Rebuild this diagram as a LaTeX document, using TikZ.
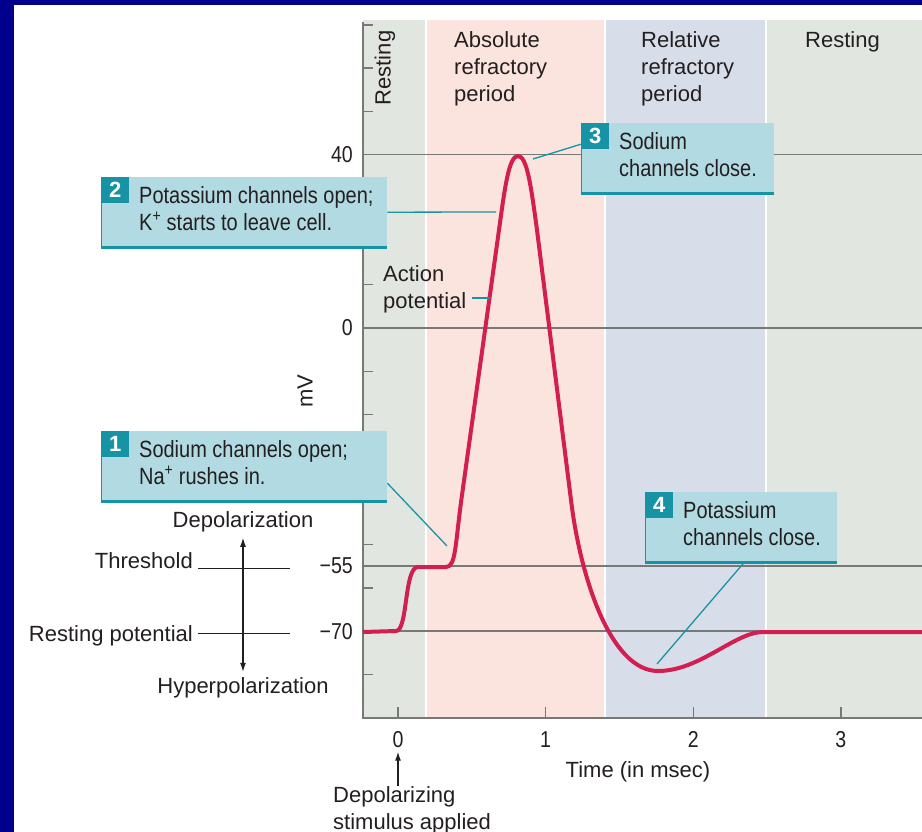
\documentclass[tikz,border=0pt]{standalone}
\usepackage{fontspec}
\setmainfont{Liberation Sans}
\newfontfamily\narrowfont[FakeStretch=0.85]{Liberation Sans}
\usetikzlibrary{arrows.meta, positioning}

\definecolor{navy}{RGB}{0,0,140}
\definecolor{restcol}{RGB}{226,230,225}
\definecolor{abscol}{RGB}{251,228,221}
\definecolor{relcol}{RGB}{216,222,233}
\definecolor{calfill}{RGB}{178,218,226}
\definecolor{calteal}{RGB}{22,148,166}
\definecolor{apred}{RGB}{210,30,80}
\definecolor{gridgray}{RGB}{120,120,120}
\definecolor{ink}{RGB}{35,31,32}

\begin{document}
\begin{tikzpicture}[x=1pt,y=-1pt,>={Latex[length=9pt,width=6pt]},
        every node/.style={inner sep=0pt, text=ink, font=\fontsize{22}{27}\selectfont},
        axisline/.style={gridgray, line width=1.8pt},
        gridline/.style={gridgray, line width=1.4pt},
        tick/.style={gridgray, line width=1.4pt},
        leader/.style={calteal, line width=1.3pt},
        apline/.style={apred, line width=4pt, line join=round},
        callout/.style={fill=calfill, minimum width=#1, minimum height=70pt, anchor=north west},
        calltext/.style={font=\narrowfont\fontsize{23.5}{27}\selectfont, align=left,
            below right=9pt and 38pt of #1.north west},
        numbox/.style={fill=calteal, text=white, font=\bfseries\fontsize{22}{22}\selectfont,
            minimum width=28pt, minimum height=26pt, anchor=north west},
        ticklabel/.style={font=\narrowfont\fontsize{23}{27}\selectfont}]

    \useasboundingbox (0,0) rectangle (922,832);
    \fill[navy] (0,0) rectangle (922,832);
    \fill[white] (14,5) rectangle (922,832);

    % phases
    \fill[restcol] (363,20) rectangle (425,718);
    \fill[abscol] (427,20) rectangle (604,718);
    \fill[relcol] (606,20) rectangle (765,718);
    \fill[restcol] (767,20) rectangle (922,718);

    \node[rotate=90] (rest1) at (385,68) {Resting};
    \node[anchor=north west, align=left] (absref) at (454,31) {Absolute\\refractory\\period};
    \node[anchor=north west, align=left] (relref) at (641,31) {Relative\\refractory\\period};
    \node[anchor=north west] (rest2) at (805,31) {Resting};

    % axes
    \foreach \v in {40,0,-55,-70}
        \draw[gridline] (363,{328-4.33*\v}) -- (922,{328-4.33*\v});
    \draw[axisline] (363,22) -- (363,718) -- (922,718);
    \foreach \v in {70,60,...,-80}
        \draw[tick] (363,{328-4.33*\v}) -- ++(10,0);
    \foreach \t in {0,...,3}
        \draw[tick] ({398+147.6*\t},718) -- ++(0,-11);

    \foreach \v/\t in {40/40, 0/0, -55/−55, -70/−70}
        \node[ticklabel, anchor=east] (yl\v) at (353,{328-4.33*\v}) {\t};
    \foreach \t in {0,...,3}
        \node[ticklabel, anchor=north] (xl\t) at ({398+147.6*\t},731) {\t};
    \node[rotate=90] (mv) at (305,391) {mV};
    \node[anchor=base] (timelab) at (638,777) {Time (in msec)};
    \node[anchor=north west, align=left] (stim) at (333,786) {Depolarizing\\stimulus applied};
    \draw[->, ink, line width=1.2pt] (xl0.south |- stim.north) -- ([yshift=-4pt]xl0.south);

    % levels
    \coordinate (thrend) at (290,568);
    \coordinate (restend) at (290,633);
    \node[anchor=base east] (thr) at (193,568) {Threshold};
    \node[anchor=base east] (restpot) at (193,641) {Resting potential};
    \node[anchor=base] (depol) at (243,527) {Depolarization};
    \node[anchor=base] (hyper) at (243,693) {Hyperpolarization};
    \draw[ink, line width=1pt] (thr.base east) ++(5,0) -- (thrend);
    \draw[ink, line width=1pt] (restpot.east |- restend) ++(5,0) -- (restend);
    \draw[<->, ink, line width=1.2pt] ([yshift=-6pt]depol.south) -- ([yshift=5pt]hyper.north);

    % action potential
    \draw[apline] (363,632) -- (396,631)
        .. controls (408,631) and (404,567) .. (418,567) -- (446,567)
        .. controls (456,567) and (455,545) .. (462,495) -- (499,230)
        .. controls (505,186) and (509,156) .. (518,156)
        .. controls (527,156) and (531,186) .. (537,230) -- (571,500)
        .. controls (580,575) and (610,671) .. (658,671)
        .. controls (700,671) and (735,632) .. (763,632) -- (922,632);

    \coordinate (c1) at (447,546);
    \coordinate (c2) at (496,212);
    \coordinate (c3) at (533,159);
    \coordinate (c4) at (657,664);
    \coordinate (capl) at (490,298);

    \node[anchor=north west, align=left] (aplabel) at (383,265) {Action\\potential};
    \draw[leader] (aplabel.east |- capl) ++(5,0) -- (capl);

    % callouts
    \node[callout=286pt] (cal1) at (101,431) {};
    \node[numbox] (n1) at (cal1.north west) {1};
    \node[calltext=cal1] (t1) {Sodium channels open;\\Na\textsuperscript{+} rushes in.};
    \draw[calteal, line width=1pt] (cal1.north west) -- (cal1.south west);
    \draw[calteal, line width=2.5pt] (cal1.south west) -- (cal1.south east);
    \draw[leader] ([yshift=-17pt]cal1.east) -- (c1);

    \node[callout=286pt] (cal2) at (101,177) {};
    \node[numbox] (n2) at (cal2.north west) {2};
    \node[calltext=cal2] (t2) {Potassium channels open;\\K\textsuperscript{+} starts to leave cell.};
    \draw[calteal, line width=1pt] (cal2.north west) -- (cal2.south west);
    \draw[calteal, line width=2.5pt] (cal2.south west) -- (cal2.south east);
    \draw[leader] (cal2.east) -- (c2);

    \node[callout=193pt] (cal3) at (581,123) {};
    \node[numbox] (n3) at (cal3.north west) {3};
    \node[calltext=cal3] (t3) {Sodium\\channels close.};
    \draw[calteal, line width=1pt] (cal3.north west) -- (cal3.south west);
    \draw[calteal, line width=2.5pt] (cal3.south west) -- (cal3.south east);
    \draw[leader] ([yshift=14pt]cal3.west) -- (c3);

    \node[callout=192pt] (cal4) at (645,492) {};
    \node[numbox] (n4) at (cal4.north west) {4};
    \node[calltext=cal4] (t4) {Potassium\\channels close.};
    \draw[calteal, line width=1pt] (cal4.north west) -- (cal4.south west);
    \draw[calteal, line width=2.5pt] (cal4.south west) -- (cal4.south east);
    \draw[leader] ([xshift=3pt]cal4.south) -- (c4);
\end{tikzpicture}
\end{document}
